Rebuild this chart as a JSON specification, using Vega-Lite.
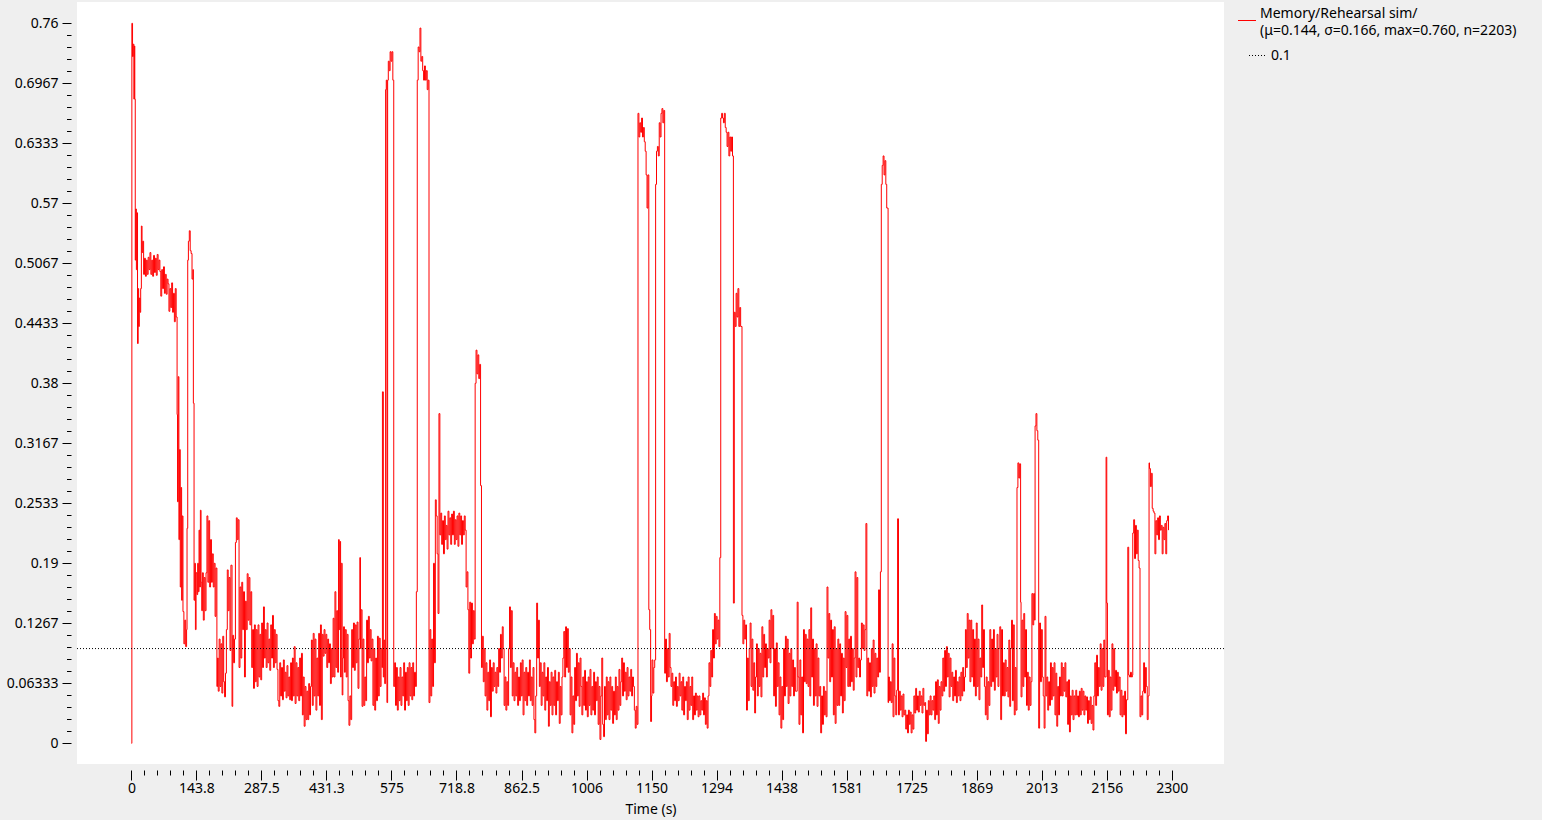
{
"$schema": "https://vega.github.io/schema/vega-lite/v6.json",
"width": 1147, "height": 762,
"autosize": "none",
"padding": {"left": 77, "top": 2, "right": 318, "bottom": 56},
"background": "#efefef",
"config": {"font": "Noto Sans", "view": {"fill": "white", "stroke": null}},
"datasets": {"s": [
{"t":0,"v":0},{"t":1,"v":0.76},{"t":2.5,"v":0.725},{"t":4,"v":0.738},{"t":5.5,"v":0.68},{"t":6.5,"v":0.736},{"t":7.5,"v":0.68},{"t":8.5,"v":0.51},{"t":9.5,"v":0.564},{"t":11,"v":0.5},{"t":12.5,"v":0.56},{"t":13.5,"v":0.422},{"t":15,"v":0.48},{"t":16,"v":0.44},{"t":17.5,"v":0.47},{"t":19,"v":0.455},{"t":20.5,"v":0.48},{"t":22,"v":0.546},{"t":23.5,"v":0.518},{"t":25,"v":0.53},{"t":27,"v":0.495},{"t":29,"v":0.512},{"t":31,"v":0.493},{"t":33,"v":0.51},{"t":35,"v":0.495},{"t":37,"v":0.513},{"t":39,"v":0.5},{"t":41,"v":0.518},{"t":43,"v":0.495},{"t":45,"v":0.51},{"t":47,"v":0.493},{"t":49,"v":0.515},{"t":51,"v":0.497},{"t":53,"v":0.512},{"t":55,"v":0.494},{"t":57,"v":0.516},{"t":59,"v":0.5},{"t":61,"v":0.51},{"t":63,"v":0.498},{"t":65,"v":0.472},{"t":67,"v":0.5},{"t":69,"v":0.48},{"t":71,"v":0.503},{"t":73,"v":0.475},{"t":75,"v":0.495},{"t":77,"v":0.474},{"t":79,"v":0.49},{"t":81,"v":0.485},{"t":83,"v":0.456},{"t":85,"v":0.48},{"t":87,"v":0.46},{"t":89,"v":0.486},{"t":91,"v":0.455},{"t":93,"v":0.475},{"t":95,"v":0.445},{"t":97,"v":0.48},{"t":99,"v":0.45},
{"t":101,"v":0.347},{"t":102,"v":0.255},{"t":103.5,"v":0.387},{"t":105,"v":0.215},{"t":106.5,"v":0.31},{"t":108,"v":0.165},{"t":109.5,"v":0.27},{"t":111,"v":0.151},{"t":112.5,"v":0.24},{"t":114,"v":0.139},{"t":116,"v":0.105},{"t":118,"v":0.13},{"t":120,"v":0.102},{"t":122,"v":0.12},{"t":123,"v":0.227},{"t":124.5,"v":0.51},{"t":126,"v":0.53},{"t":128,"v":0.541},{"t":130,"v":0.52},{"t":132,"v":0.517},{"t":134,"v":0.49},{"t":136,"v":0.5},{"t":137,"v":0.359},{"t":138.5,"v":0.151},{"t":140,"v":0.19},{"t":141.5,"v":0.12},{"t":143,"v":0.18},{"t":145,"v":0.157},{"t":146.5,"v":0.19},{"t":148,"v":0.16},{"t":149.5,"v":0.225},{"t":151,"v":0.165},{"t":152.5,"v":0.246},{"t":154,"v":0.17},{"t":155.5,"v":0.14},{"t":157,"v":0.18},{"t":159,"v":0.13},{"t":161,"v":0.175},{"t":163,"v":0.14},{"t":165,"v":0.18},{"t":167,"v":0.24},{"t":169,"v":0.17},{"t":171,"v":0.235},{"t":173,"v":0.165},{"t":175,"v":0.215},{"t":177,"v":0.17},{"t":179,"v":0.2},{"t":181,"v":0.165},{"t":183,"v":0.19},{"t":185,"v":0.134},{"t":187,"v":0.185},{"t":189,"v":0.06},{"t":190.5,"v":0.09},{"t":192,"v":0.055},{"t":194,"v":0.11},{"t":196,"v":0.06},{"t":198,"v":0.105},{"t":200,"v":0.053},{"t":202,"v":0.113},{"t":204,"v":0.065},{"t":206,"v":0.049},{"t":208,"v":0.074},{"t":210,"v":0.12},{"t":212,"v":0.183},{"t":214,"v":0.14},{"t":216,"v":0.175},{"t":218,"v":0.098},{"t":220,"v":0.188},{"t":222.5,"v":0.039},{"t":224,"v":0.114},{"t":226,"v":0.085},{"t":228,"v":0.11},{"t":230,"v":0.212},{"t":232,"v":0.238},{"t":234,"v":0.215},{"t":236,"v":0.236},{"t":238,"v":0.08},{"t":240,"v":0.165},{"t":242,"v":0.09},{"t":244,"v":0.17},{"t":246,"v":0.12},{"t":248,"v":0.16},{"t":250,"v":0.07},{"t":252,"v":0.15},{"t":254,"v":0.12},{"t":256,"v":0.179},{"t":258,"v":0.13},{"t":260,"v":0.175},{"t":262,"v":0.125},{"t":264,"v":0.16},{"t":266,"v":0.08},{"t":268,"v":0.12},{"t":270,"v":0.058},{"t":272,"v":0.125},{"t":274,"v":0.065},{"t":276,"v":0.12},{"t":278,"v":0.06},
{"t":280,"v":0.125},{"t":282,"v":0.07},{"t":284,"v":0.115},{"t":286,"v":0.067},{"t":288,"v":0.127},{"t":290,"v":0.08},{"t":292,"v":0.144},{"t":294,"v":0.09},{"t":296,"v":0.12},{"t":298,"v":0.08},{"t":300,"v":0.127},{"t":302,"v":0.085},{"t":304,"v":0.11},{"t":306,"v":0.077},{"t":308,"v":0.125},{"t":310,"v":0.09},{"t":312,"v":0.135},{"t":314,"v":0.08},{"t":316,"v":0.12},{"t":318,"v":0.085},{"t":320,"v":0.115},{"t":322,"v":0.078},{"t":324,"v":0.045},{"t":326,"v":0.039},{"t":328,"v":0.085},{"t":330,"v":0.05},{"t":332,"v":0.08},{"t":334,"v":0.046},{"t":336,"v":0.088},{"t":338,"v":0.055},{"t":340,"v":0.075},{"t":342,"v":0.048},{"t":344,"v":0.082},{"t":346,"v":0.05},{"t":348,"v":0.07},{"t":350,"v":0.046},{"t":352,"v":0.085},{"t":354,"v":0.045},{"t":356,"v":0.09},{"t":358,"v":0.05},{"t":360,"v":0.102},{"t":362,"v":0.042},{"t":364,"v":0.085},{"t":366,"v":0.05},{"t":368,"v":0.08},{"t":370,"v":0.045},{"t":372,"v":0.09},{"t":374,"v":0.05},{"t":376,"v":0.095},{"t":378,"v":0.03},{"t":380,"v":0.07},{"t":382,"v":0.018},{"t":384,"v":0.06},{"t":386,"v":0.025},{"t":388,"v":0.055},{"t":390,"v":0.025},{"t":392,"v":0.063},{"t":394,"v":0.03},{"t":396,"v":0.06},{"t":398,"v":0.109},{"t":400,"v":0.04},{"t":402,"v":0.116},{"t":404,"v":0.05},{"t":406,"v":0.11},{"t":408,"v":0.035},{"t":410,"v":0.09},{"t":412,"v":0.05},{"t":414,"v":0.116},{"t":416,"v":0.04},{"t":418,"v":0.125},{"t":420,"v":0.025},{"t":422,"v":0.115},{"t":424,"v":0.092},{"t":426,"v":0.12},{"t":428,"v":0.095},{"t":430,"v":0.115},{"t":432,"v":0.08},{"t":434,"v":0.11},{"t":436,"v":0.085},{"t":438,"v":0.105},{"t":440,"v":0.063},{"t":442,"v":0.1},{"t":444,"v":0.07},{"t":446,"v":0.132},{"t":448,"v":0.07},{"t":450,"v":0.16},{"t":452,"v":0.08},{"t":454,"v":0.14},{"t":456,"v":0.075},{"t":458,"v":0.215},{"t":459.5,"v":0.12},{"t":461,"v":0.213},{"t":462.5,"v":0.07},{"t":464,"v":0.19},{"t":466,"v":0.051},{"t":467.5,"v":0.09},{"t":469,"v":0.123},{"t":471,"v":0.075},{"t":473,"v":0.12},{"t":475,"v":0.07},{"t":477,"v":0.115},{"t":479,"v":0.045},{"t":481,"v":0.019},{"t":483,"v":0.05},{"t":485,"v":0.025},{"t":487,"v":0.12},{"t":489,"v":0.08},{"t":491,"v":0.127},{"t":493,"v":0.077},{"t":495,"v":0.125},{"t":497,"v":0.085},{"t":499,"v":0.128},{"t":501,"v":0.058},{"t":503,"v":0.11},{"t":505,"v":0.196},{"t":506.5,"v":0.1},{"t":508,"v":0.141},{"t":510,"v":0.039},{"t":512,"v":0.11},{"t":514,"v":0.04},{"t":516,"v":0.07},{"t":518,"v":0.045},{"t":520,"v":0.13},{"t":522,"v":0.085},{"t":524,"v":0.134},{"t":526,"v":0.09},{"t":528,"v":0.12},{"t":530,"v":0.087},{"t":532,"v":0.11},{"t":534,"v":0.04},{"t":536,"v":0.1},{"t":538,"v":0.035},{"t":540,"v":0.09},{"t":542,"v":0.045},{"t":544,"v":0.113},{"t":546,"v":0.05},{"t":548,"v":0.111},{"t":550,"v":0.06},{"t":552,"v":0.1},{"t":554,"v":0.08},{"t":555,"v":0.371},{"t":557,"v":0.07},{"t":558.5,"v":0.109},{"t":560,"v":0.063},{"t":562,"v":0.69},{"t":563.5,"v":0.7},{"t":565,"v":0.043},{"t":566.5,"v":0.7},{"t":568,"v":0.72},{"t":570,"v":0.71},{"t":572,"v":0.73},{"t":574,"v":0.72},{"t":576,"v":0.73},{"t":578,"v":0.7},
{"t":580,"v":0.06},{"t":582,"v":0.085},{"t":584,"v":0.04},{"t":586,"v":0.08},{"t":588,"v":0.035},{"t":590,"v":0.07},{"t":592,"v":0.045},{"t":594,"v":0.08},{"t":596,"v":0.04},{"t":598,"v":0.07},{"t":600,"v":0.05},{"t":602,"v":0.085},{"t":604,"v":0.035},{"t":606,"v":0.075},{"t":608,"v":0.045},{"t":610,"v":0.08},{"t":612,"v":0.04},{"t":614,"v":0.085},{"t":616,"v":0.05},{"t":618,"v":0.08},{"t":620,"v":0.046},{"t":622,"v":0.085},{"t":624,"v":0.05},{"t":626,"v":0.075},{"t":628,"v":0.06},{"t":630,"v":0.16},{"t":632,"v":0.7},{"t":634,"v":0.735},{"t":636,"v":0.73},{"t":638,"v":0.755},{"t":640,"v":0.72},{"t":642,"v":0.725},{"t":644,"v":0.71},{"t":646,"v":0.7},{"t":648,"v":0.715},{"t":650,"v":0.7},{"t":652,"v":0.71},{"t":654,"v":0.69},{"t":656,"v":0.7},{"t":658,"v":0.043},{"t":660,"v":0.12},{"t":662,"v":0.05},{"t":664,"v":0.11},{"t":666,"v":0.06},{"t":668,"v":0.19},{"t":670,"v":0.085},{"t":672,"v":0.257},{"t":674,"v":0.24},{"t":676,"v":0.2},{"t":678,"v":0.137},{"t":680,"v":0.348},{"t":682,"v":0.22},{"t":684,"v":0.243},{"t":686,"v":0.21},{"t":688,"v":0.235},{"t":690,"v":0.2},{"t":692,"v":0.24},{"t":694,"v":0.215},{"t":696,"v":0.23},{"t":698,"v":0.205},{"t":700,"v":0.245},{"t":702,"v":0.22},{"t":704,"v":0.238},{"t":706,"v":0.21},{"t":708,"v":0.242},{"t":710,"v":0.22},{"t":712,"v":0.245},{"t":714,"v":0.21},{"t":716,"v":0.236},{"t":718,"v":0.215},{"t":720,"v":0.24},{"t":722,"v":0.208},{"t":724,"v":0.243},{"t":726,"v":0.22},{"t":728,"v":0.24},{"t":730,"v":0.21},{"t":732,"v":0.235},{"t":734,"v":0.22},{"t":736,"v":0.24},{"t":738,"v":0.225},{"t":740,"v":0.165},{"t":742,"v":0.181},{"t":744,"v":0.141},{"t":746,"v":0.074},{"t":748,"v":0.149},{"t":750,"v":0.09},{"t":752,"v":0.148},{"t":754,"v":0.105},{"t":756,"v":0.14},{"t":758,"v":0.11},{"t":760,"v":0.38},{"t":762,"v":0.415},{"t":764,"v":0.39},{"t":766,"v":0.41},{"t":768,"v":0.385},{"t":770,"v":0.4},{"t":772,"v":0.272},{"t":774,"v":0.08},{"t":776,"v":0.113},{"t":778,"v":0.065},{"t":780,"v":0.1},
{"t":782,"v":0.05},{"t":784,"v":0.085},{"t":786,"v":0.035},{"t":788,"v":0.075},{"t":790,"v":0.045},{"t":792,"v":0.088},{"t":794,"v":0.028},{"t":796,"v":0.08},{"t":798,"v":0.055},{"t":800,"v":0.085},{"t":802,"v":0.06},{"t":804,"v":0.075},{"t":806,"v":0.053},{"t":808,"v":0.08},{"t":810,"v":0.06},{"t":812,"v":0.1},{"t":814,"v":0.075},{"t":816,"v":0.115},{"t":818,"v":0.09},{"t":820,"v":0.123},{"t":822,"v":0.1},{"t":824,"v":0.04},{"t":826,"v":0.07},{"t":828,"v":0.035},{"t":830,"v":0.065},{"t":832,"v":0.04},{"t":834,"v":0.1},{"t":836,"v":0.144},{"t":838,"v":0.08},{"t":840,"v":0.14},{"t":842,"v":0.05},{"t":844,"v":0.085},{"t":846,"v":0.045},{"t":848,"v":0.075},{"t":850,"v":0.05},{"t":852,"v":0.08},{"t":854,"v":0.04},{"t":856,"v":0.07},{"t":858,"v":0.045},{"t":860,"v":0.085},{"t":862,"v":0.05},{"t":864,"v":0.088},{"t":866,"v":0.03},{"t":868,"v":0.075},{"t":870,"v":0.045},{"t":872,"v":0.08},{"t":874,"v":0.04},{"t":876,"v":0.075},{"t":878,"v":0.05},{"t":880,"v":0.088},{"t":882,"v":0.045},{"t":884,"v":0.07},{"t":886,"v":0.04},{"t":888,"v":0.08},{"t":890,"v":0.025},{"t":892,"v":0.011},{"t":894,"v":0.05},{"t":896,"v":0.148},{"t":898,"v":0.09},{"t":900,"v":0.13},{"t":902,"v":0.06},{"t":904,"v":0.085},{"t":906,"v":0.04},{"t":908,"v":0.075},{"t":910,"v":0.05},{"t":912,"v":0.085},{"t":914,"v":0.035},{"t":916,"v":0.07},{"t":918,"v":0.045},{"t":920,"v":0.08},{"t":922,"v":0.018},{"t":924,"v":0.065},{"t":926,"v":0.04},{"t":928,"v":0.075},{"t":930,"v":0.03},{"t":932,"v":0.07},{"t":934,"v":0.04},{"t":936,"v":0.077},{"t":938,"v":0.03},{"t":940,"v":0.065},{"t":942,"v":0.045},{"t":944,"v":0.075},{"t":946,"v":0.021},{"t":948,"v":0.06},{"t":950,"v":0.03},{"t":952,"v":0.07},{"t":954,"v":0.09},{"t":956,"v":0.118},{"t":958,"v":0.07},{"t":960,"v":0.123},{"t":962,"v":0.08},{"t":964,"v":0.121},{"t":966,"v":0.075},{"t":968,"v":0.1},{"t":970,"v":0.03},{"t":972,"v":0.07},{"t":974,"v":0.011},{"t":976,"v":0.05},{"t":978,"v":0.02},{"t":980,"v":0.08},{"t":982,"v":0.045},{"t":984,"v":0.095},{"t":986,"v":0.05},{"t":988,"v":0.085},{"t":990,"v":0.039},{"t":992,"v":0.09},{"t":994,"v":0.06},{"t":996,"v":0.03},{"t":998,"v":0.07},{"t":1000,"v":0.04},{"t":1002,"v":0.077},{"t":1004,"v":0.035},{"t":1006,"v":0.065},{"t":1008,"v":0.028},{"t":1010,"v":0.07},{"t":1012,"v":0.04},{"t":1014,"v":0.078},{"t":1016,"v":0.03},{"t":1018,"v":0.06},{"t":1020,"v":0.035},{"t":1022,"v":0.075},{"t":1024,"v":0.03},{"t":1026,"v":0.065},{"t":1028,"v":0.045},{"t":1030,"v":0.07},{"t":1032,"v":0.02},{"t":1034,"v":0.06},{"t":1036,"v":0.004},{"t":1038,"v":0.05},{"t":1040,"v":0.09},{"t":1042,"v":0.02},{"t":1044,"v":0.007},{"t":1046,"v":0.06},{"t":1048,"v":0.025},{"t":1050,"v":0.07},{"t":1052,"v":0.03},{"t":1054,"v":0.065},{"t":1056,"v":0.025},{"t":1058,"v":0.07},{"t":1060,"v":0.035},{"t":1062,"v":0.06},{"t":1064,"v":0.021},{"t":1066,"v":0.055},{"t":1068,"v":0.03},{"t":1070,"v":0.07},{"t":1072,"v":0.025},{"t":1074,"v":0.06},{"t":1076,"v":0.035},{"t":1078,"v":0.078},{"t":1080,"v":0.04},{"t":1082,"v":0.065},{"t":1084,"v":0.09},{"t":1086,"v":0.05},{"t":1088,"v":0.085},{"t":1090,"v":0.055},{"t":1092,"v":0.075},{"t":1094,"v":0.046},{"t":1096,"v":0.08},{"t":1098,"v":0.05},{"t":1100,"v":0.07},{"t":1102,"v":0.055},{"t":1104,"v":0.078},{"t":1106,"v":0.05},{"t":1108,"v":0.07},{"t":1110,"v":0.06},{"t":1112,"v":0.035},{"t":1114,"v":0.016},{"t":1116,"v":0.039},{"t":1118,"v":0.02},
{"t":1120,"v":0.665},{"t":1122,"v":0.64},{"t":1124,"v":0.655},{"t":1126,"v":0.645},{"t":1128,"v":0.66},{"t":1130,"v":0.64},{"t":1132,"v":0.65},{"t":1134,"v":0.635},{"t":1136,"v":0.625},{"t":1138,"v":0.6},{"t":1140,"v":0.565},{"t":1142,"v":0.6},{"t":1144,"v":0.141},{"t":1146,"v":0.12},{"t":1148,"v":0.023},{"t":1150,"v":0.05},{"t":1151,"v":0.088},{"t":1153,"v":0.053},{"t":1155,"v":0.08},{"t":1157,"v":0.088},{"t":1159,"v":0.59},{"t":1161,"v":0.625},{"t":1163,"v":0.63},{"t":1165,"v":0.62},{"t":1167,"v":0.655},{"t":1169,"v":0.64},{"t":1171,"v":0.665},{"t":1173,"v":0.67},{"t":1175,"v":0.655},{"t":1177,"v":0.668},{"t":1179,"v":0.074},{"t":1181,"v":0.11},{"t":1183,"v":0.065},{"t":1185,"v":0.1},{"t":1187,"v":0.07},{"t":1189,"v":0.116},{"t":1191,"v":0.08},{"t":1193,"v":0.06},{"t":1195,"v":0.074},{"t":1197,"v":0.04},{"t":1199,"v":0.065},{"t":1201,"v":0.045},{"t":1203,"v":0.07},{"t":1205,"v":0.039},{"t":1207,"v":0.06},{"t":1209,"v":0.045},{"t":1211,"v":0.074},{"t":1213,"v":0.05},{"t":1215,"v":0.065},{"t":1217,"v":0.035},{"t":1219,"v":0.07},{"t":1221,"v":0.03},{"t":1223,"v":0.06},{"t":1225,"v":0.045},{"t":1227,"v":0.065},{"t":1229,"v":0.025},{"t":1231,"v":0.07},{"t":1233,"v":0.035},{"t":1235,"v":0.06},{"t":1237,"v":0.04},{"t":1239,"v":0.07},{"t":1241,"v":0.025},{"t":1243,"v":0.05},{"t":1245,"v":0.03},{"t":1247,"v":0.053},{"t":1249,"v":0.035},{"t":1251,"v":0.05},{"t":1253,"v":0.028},{"t":1255,"v":0.05},{"t":1257,"v":0.03},{"t":1259,"v":0.045},{"t":1261,"v":0.035},{"t":1263,"v":0.053},{"t":1265,"v":0.03},{"t":1267,"v":0.048},{"t":1269,"v":0.02},{"t":1271,"v":0.045},{"t":1273,"v":0.016},{"t":1275,"v":0.05},{"t":1277,"v":0.085},{"t":1279,"v":0.06},{"t":1281,"v":0.098},{"t":1283,"v":0.07},{"t":1285,"v":0.12},{"t":1287,"v":0.09},{"t":1289,"v":0.137},{"t":1291,"v":0.105},{"t":1293,"v":0.134},{"t":1295,"v":0.11},{"t":1297,"v":0.13},{"t":1299,"v":0.102},{"t":1301,"v":0.196},{"t":1303,"v":0.66},{"t":1305,"v":0.665},{"t":1307,"v":0.66},{"t":1309,"v":0.655},{"t":1311,"v":0.665},{"t":1313,"v":0.65},{"t":1315,"v":0.645},{"t":1317,"v":0.63},{"t":1319,"v":0.645},{"t":1321,"v":0.62},{"t":1323,"v":0.64},{"t":1325,"v":0.625},{"t":1327,"v":0.64},{"t":1329,"v":0.62},{"t":1331,"v":0.148},{"t":1333,"v":0.455},{"t":1335,"v":0.44},{"t":1337,"v":0.475},{"t":1339,"v":0.45},{"t":1341,"v":0.48},{"t":1343,"v":0.44},{"t":1345,"v":0.46},{"t":1347,"v":0.44},
{"t":1350,"v":0.135},{"t":1352,"v":0.105},{"t":1354,"v":0.13},{"t":1356,"v":0.11},{"t":1358,"v":0.125},{"t":1360,"v":0.035},{"t":1362,"v":0.09},{"t":1364,"v":0.045},{"t":1366,"v":0.1},{"t":1368,"v":0.127},{"t":1370,"v":0.06},{"t":1372,"v":0.11},{"t":1374,"v":0.056},{"t":1376,"v":0.085},{"t":1378,"v":0.032},{"t":1380,"v":0.07},{"t":1382,"v":0.105},{"t":1384,"v":0.05},{"t":1386,"v":0.1},{"t":1388,"v":0.06},{"t":1390,"v":0.095},{"t":1392,"v":0.049},{"t":1394,"v":0.123},{"t":1396,"v":0.07},{"t":1398,"v":0.115},{"t":1400,"v":0.08},{"t":1402,"v":0.105},{"t":1404,"v":0.07},{"t":1406,"v":0.1},{"t":1408,"v":0.09},{"t":1410,"v":0.13},{"t":1412,"v":0.085},{"t":1414,"v":0.141},{"t":1416,"v":0.1},{"t":1418,"v":0.135},{"t":1420,"v":0.05},{"t":1422,"v":0.1},{"t":1424,"v":0.039},{"t":1426,"v":0.106},{"t":1428,"v":0.06},{"t":1430,"v":0.085},{"t":1432,"v":0.03},{"t":1434,"v":0.07},{"t":1436,"v":0.016},{"t":1438,"v":0.06},{"t":1440,"v":0.025},{"t":1442,"v":0.1},{"t":1444,"v":0.05},{"t":1446,"v":0.113},{"t":1448,"v":0.06},{"t":1450,"v":0.11},{"t":1452,"v":0.042},{"t":1454,"v":0.095},{"t":1456,"v":0.05},{"t":1458,"v":0.1},{"t":1460,"v":0.06},{"t":1462,"v":0.088},{"t":1464,"v":0.05},{"t":1466,"v":0.08},{"t":1468,"v":0.055},{"t":1472,"v":0.149},{"t":1474,"v":0.07},{"t":1476,"v":0.02},{"t":1478,"v":0.088},{"t":1480,"v":0.03},{"t":1482,"v":0.07},{"t":1484,"v":0.011},{"t":1486,"v":0.12},{"t":1488,"v":0.065},{"t":1490,"v":0.115},{"t":1492,"v":0.063},{"t":1494,"v":0.11},{"t":1496,"v":0.06},{"t":1498,"v":0.12},{"t":1500,"v":0.05},{"t":1502,"v":0.143},{"t":1504,"v":0.07},{"t":1506,"v":0.11},{"t":1508,"v":0.04},{"t":1510,"v":0.1},{"t":1512,"v":0.05},{"t":1514,"v":0.105},{"t":1516,"v":0.039},{"t":1518,"v":0.09},{"t":1520,"v":0.05},{"t":1522,"v":0.06},{"t":1524,"v":0.011},{"t":1526,"v":0.05},{"t":1528,"v":0.02},{"t":1530,"v":0.06},{"t":1532,"v":0.03},{"t":1534,"v":0.055},{"t":1536,"v":0.028},{"t":1538,"v":0.165},{"t":1540,"v":0.09},{"t":1542,"v":0.137},{"t":1544,"v":0.065},{"t":1546,"v":0.13},{"t":1548,"v":0.07},{"t":1550,"v":0.12},{"t":1552,"v":0.03},{"t":1554,"v":0.123},{"t":1556,"v":0.021},{"t":1558,"v":0.1},{"t":1560,"v":0.04},{"t":1562,"v":0.11},{"t":1564,"v":0.04},{"t":1566,"v":0.105},{"t":1568,"v":0.05},{"t":1570,"v":0.095},{"t":1572,"v":0.032},{"t":1574,"v":0.09},{"t":1576,"v":0.045},{"t":1578,"v":0.139},{"t":1580,"v":0.08},{"t":1582,"v":0.135},{"t":1584,"v":0.06},{"t":1586,"v":0.11},{"t":1588,"v":0.06},{"t":1590,"v":0.113},{"t":1592,"v":0.065},{"t":1594,"v":0.1},{"t":1596,"v":0.056},{"t":1598,"v":0.09},{"t":1600,"v":0.181},{"t":1602,"v":0.07},{"t":1604,"v":0.175},{"t":1606,"v":0.08},{"t":1608,"v":0.09},{"t":1610,"v":0.07},{"t":1612,"v":0.088},{"t":1614,"v":0.127},{"t":1616,"v":0.1},{"t":1618,"v":0.125},{"t":1620,"v":0.098},{"t":1622,"v":0.12},{"t":1624,"v":0.232},{"t":1626,"v":0.05},{"t":1628,"v":0.09},{"t":1630,"v":0.055},{"t":1632,"v":0.085},{"t":1634,"v":0.049},{"t":1636,"v":0.1},{"t":1638,"v":0.06},{"t":1640,"v":0.109},{"t":1642,"v":0.053},{"t":1644,"v":0.095},{"t":1646,"v":0.06},{"t":1648,"v":0.09},{"t":1650,"v":0.07},{"t":1652,"v":0.162},{"t":1654,"v":0.075},{"t":1656,"v":0.181},{"t":1658,"v":0.59},{"t":1660,"v":0.61},{"t":1662,"v":0.62},{"t":1664,"v":0.6},{"t":1666,"v":0.615},{"t":1668,"v":0.59},{"t":1670,"v":0.565},{"t":1673,"v":0.043},{"t":1674,"v":0.07},{"t":1676,"v":0.045},{"t":1678,"v":0.065},{"t":1680,"v":0.043},{"t":1682,"v":0.105},{"t":1684,"v":0.028},{"t":1686,"v":0.09},{"t":1688,"v":0.05},{"t":1690,"v":0.03},{"t":1692,"v":0.056},{"t":1694,"v":0.237},{"t":1696,"v":0.03},{"t":1698,"v":0.055},{"t":1700,"v":0.035},{"t":1702,"v":0.05},{"t":1704,"v":0.028},{"t":1706,"v":0.052},{"t":1708,"v":0.03},{"t":1710,"v":0.035},{"t":1712,"v":0.015},{"t":1714,"v":0.03},{"t":1716,"v":0.011},{"t":1718,"v":0.035},{"t":1720,"v":0.02},{"t":1722,"v":0.033},{"t":1724,"v":0.011},{"t":1726,"v":0.03},{"t":1728,"v":0.015},{"t":1730,"v":0.05},{"t":1732,"v":0.032},{"t":1734,"v":0.058},{"t":1736,"v":0.035},{"t":1738,"v":0.05},{"t":1740,"v":0.033},{"t":1742,"v":0.055},{"t":1744,"v":0.04},{"t":1746,"v":0.05},{"t":1748,"v":0.032},{"t":1750,"v":0.058},{"t":1752,"v":0.04},{"t":1754,"v":0.043},{"t":1756,"v":0.002},{"t":1758,"v":0.035},{"t":1760,"v":0.01},{"t":1762,"v":0.045},{"t":1764,"v":0.03},{"t":1766,"v":0.05},{"t":1768,"v":0.03},{"t":1770,"v":0.045},{"t":1772,"v":0.035},{"t":1774,"v":0.05},{"t":1776,"v":0.025},{"t":1778,"v":0.065},{"t":1780,"v":0.03},{"t":1782,"v":0.067},{"t":1784,"v":0.021},{"t":1786,"v":0.06},{"t":1788,"v":0.035},{"t":1790,"v":0.065},{"t":1792,"v":0.05},{"t":1794,"v":0.09},{"t":1796,"v":0.055},{"t":1798,"v":0.098},{"t":1800,"v":0.06},{"t":1802,"v":0.102},{"t":1804,"v":0.07},{"t":1806,"v":0.095},{"t":1808,"v":0.049},{"t":1810,"v":0.09},{"t":1812,"v":0.06},{"t":1814,"v":0.075},{"t":1816,"v":0.045},{"t":1818,"v":0.07},{"t":1820,"v":0.05},{"t":1822,"v":0.077},{"t":1824,"v":0.043},{"t":1826,"v":0.065},{"t":1828,"v":0.05},{"t":1830,"v":0.07},{"t":1832,"v":0.045},{"t":1834,"v":0.075},{"t":1836,"v":0.05},{"t":1838,"v":0.08},{"t":1840,"v":0.055},{"t":1842,"v":0.07},{"t":1844,"v":0.12},{"t":1846,"v":0.08},{"t":1848,"v":0.137},{"t":1850,"v":0.09},{"t":1852,"v":0.13},{"t":1854,"v":0.065},{"t":1856,"v":0.13},{"t":1858,"v":0.07},{"t":1860,"v":0.12},{"t":1862,"v":0.06},{"t":1864,"v":0.11},{"t":1866,"v":0.05},{"t":1868,"v":0.127},{"t":1870,"v":0.06},{"t":1872,"v":0.11},{"t":1874,"v":0.046},{"t":1876,"v":0.09},{"t":1878,"v":0.07},{"t":1880,"v":0.146},{"t":1882,"v":0.08},{"t":1884,"v":0.12},{"t":1886,"v":0.06},{"t":1888,"v":0.03},{"t":1890,"v":0.07},{"t":1892,"v":0.025},{"t":1894,"v":0.065},{"t":1896,"v":0.04},{"t":1898,"v":0.12},{"t":1900,"v":0.06},{"t":1902,"v":0.11},{"t":1904,"v":0.065},{"t":1906,"v":0.12},{"t":1908,"v":0.056},{"t":1910,"v":0.1},{"t":1912,"v":0.07},{"t":1914,"v":0.115},{"t":1916,"v":0.06},{"t":1918,"v":0.1},{"t":1920,"v":0.123},{"t":1922,"v":0.025},{"t":1924,"v":0.12},{"t":1926,"v":0.05},{"t":1928,"v":0.085},{"t":1930,"v":0.05},{"t":1932,"v":0.088},{"t":1934,"v":0.055},{"t":1936,"v":0.08},{"t":1938,"v":0.049},{"t":1940,"v":0.109},{"t":1942,"v":0.039},{"t":1944,"v":0.1},{"t":1946,"v":0.13},{"t":1948,"v":0.045},{"t":1950,"v":0.125},{"t":1952,"v":0.03},{"t":1954,"v":0.08},{"t":1956,"v":0.035},{"t":1958,"v":0.27},{"t":1960,"v":0.296},{"t":1962,"v":0.28},{"t":1964,"v":0.295},{"t":1966,"v":0.149},{"t":1967,"v":0.049},{"t":1969,"v":0.13},{"t":1971,"v":0.06},{"t":1973,"v":0.137},{"t":1975,"v":0.07},{"t":1977,"v":0.12},{"t":1979,"v":0.04},{"t":1981,"v":0.075},{"t":1983,"v":0.035},{"t":1985,"v":0.07},{"t":1987,"v":0.04},{"t":1989,"v":0.065},{"t":1991,"v":0.158},{"t":1993,"v":0.125},{"t":1995,"v":0.158},{"t":1997,"v":0.13},{"t":1998,"v":0.335},{"t":2000,"v":0.348},{"t":2002,"v":0.33},{"t":2004,"v":0.32},{"t":2006,"v":0.016},{"t":2008,"v":0.127},{"t":2010,"v":0.065},{"t":2012,"v":0.12},{"t":2014,"v":0.07},{"t":2016,"v":0.05},{"t":2018,"v":0.016},{"t":2020,"v":0.134},{"t":2022,"v":0.05},{"t":2024,"v":0.07},{"t":2026,"v":0.035},{"t":2028,"v":0.065},{"t":2030,"v":0.04},{"t":2032,"v":0.085},{"t":2034,"v":0.046},{"t":2036,"v":0.08},{"t":2038,"v":0.05},{"t":2040,"v":0.085},{"t":2042,"v":0.03},{"t":2044,"v":0.074},{"t":2046,"v":0.018},{"t":2048,"v":0.06},{"t":2050,"v":0.03},{"t":2052,"v":0.07},{"t":2054,"v":0.05},{"t":2056,"v":0.085},{"t":2058,"v":0.05},{"t":2060,"v":0.08},{"t":2062,"v":0.055},{"t":2064,"v":0.085},{"t":2066,"v":0.049},{"t":2068,"v":0.065},{"t":2070,"v":0.02},{"t":2072,"v":0.067},{"t":2074,"v":0.012},{"t":2076,"v":0.05},{"t":2078,"v":0.03},{"t":2080,"v":0.056},{"t":2082,"v":0.025},{"t":2084,"v":0.05},{"t":2086,"v":0.03},{"t":2088,"v":0.056},{"t":2090,"v":0.03},{"t":2092,"v":0.05},{"t":2094,"v":0.028},{"t":2096,"v":0.055},{"t":2098,"v":0.03},{"t":2100,"v":0.058},{"t":2102,"v":0.035},{"t":2104,"v":0.055},{"t":2106,"v":0.03},{"t":2108,"v":0.05},{"t":2110,"v":0.035},{"t":2112,"v":0.049},{"t":2114,"v":0.021},{"t":2116,"v":0.045},{"t":2118,"v":0.025},{"t":2120,"v":0.049},{"t":2122,"v":0.021},{"t":2124,"v":0.04},{"t":2126,"v":0.014},{"t":2128,"v":0.05},{"t":2130,"v":0.085},{"t":2132,"v":0.04},{"t":2134,"v":0.093},{"t":2136,"v":0.05},{"t":2138,"v":0.08},{"t":2140,"v":0.06},{"t":2142,"v":0.105},{"t":2144,"v":0.056},{"t":2146,"v":0.1},{"t":2148,"v":0.06},{"t":2150,"v":0.109},{"t":2152,"v":0.07},{"t":2155,"v":0.302},{"t":2156.5,"v":0.148},{"t":2158,"v":0.03},{"t":2160,"v":0.077},{"t":2162,"v":0.028},{"t":2164,"v":0.07},{"t":2166,"v":0.035},{"t":2168,"v":0.105},{"t":2170,"v":0.056},{"t":2172,"v":0.1},{"t":2174,"v":0.06},{"t":2176,"v":0.077},{"t":2178,"v":0.053},{"t":2180,"v":0.075},{"t":2182,"v":0.055},{"t":2184,"v":0.07},{"t":2186,"v":0.03},{"t":2188,"v":0.056},{"t":2190,"v":0.028},{"t":2192,"v":0.05},{"t":2194,"v":0.03},{"t":2196,"v":0.055},{"t":2198,"v":0.01},{"t":2200,"v":0.046},{"t":2203,"v":0.207},{"t":2205,"v":0.072},{"t":2207,"v":0.07},{"t":2209,"v":0.075},{"t":2211,"v":0.07},{"t":2213,"v":0.072},{"t":2214,"v":0.222},{"t":2216,"v":0.236},{"t":2218,"v":0.195},{"t":2220,"v":0.23},{"t":2222,"v":0.2},{"t":2224,"v":0.225},{"t":2226,"v":0.193},{"t":2228,"v":0.185},{"t":2230,"v":0.028},{"t":2232,"v":0.05},{"t":2234,"v":0.03},{"t":2236,"v":0.055},{"t":2238,"v":0.085},{"t":2240,"v":0.053},{"t":2242,"v":0.08},{"t":2244,"v":0.06},{"t":2246,"v":0.025},{"t":2248,"v":0.05},{"t":2250,"v":0.296},{"t":2251,"v":0.29},{"t":2253,"v":0.271},{"t":2255,"v":0.285},{"t":2257,"v":0.248},{"t":2259,"v":0.245},{"t":2261,"v":0.243},{"t":2263,"v":0.2},{"t":2265,"v":0.235},{"t":2267,"v":0.22},{"t":2269,"v":0.238},{"t":2271,"v":0.215},{"t":2273,"v":0.24},{"t":2275,"v":0.225},{"t":2277,"v":0.23},{"t":2279,"v":0.2},{"t":2281,"v":0.228},{"t":2283,"v":0.215},{"t":2285,"v":0.232},{"t":2287,"v":0.2},{"t":2289,"v":0.235},{"t":2291,"v":0.24},{"t":2293,"v":0.225}
]},
"layer": [
{"data": {"name": "s"},
 "mark": {"type": "line", "interpolate": "step-after", "strokeWidth": 1},
 "encoding": {
  "x": {"field": "t", "type": "quantitative",
   "scale": {"domain": [-120.3, 2415.7], "nice": false, "zero": false},
   "axis": {"values": [0,28.75,57.5,86.25,115,143.75,172.5,201.25,230,258.75,287.5,316.25,345,373.75,402.5,431.25,460,488.75,517.5,546.25,575,603.75,632.5,661.25,690,718.75,747.5,776.25,805,833.75,862.5,891.25,920,948.75,977.5,1006.25,1035,1063.75,1092.5,1121.25,1150,1178.75,1207.5,1236.25,1265,1293.75,1322.5,1351.25,1380,1408.75,1437.5,1466.25,1495,1523.75,1552.5,1581.25,1610,1638.75,1667.5,1696.25,1725,1753.75,1782.5,1811.25,1840,1868.75,1897.5,1926.25,1955,1983.75,2012.5,2041.25,2070,2098.75,2127.5,2156.25,2185,2213.75,2242.5,2271.25,2300],
    "tickCount": 1000,
    "labelExpr": "datum.value % 143.75 == 0 ? format(datum.value, '.4~r') : ''",
    "tickSize": {"condition": {"test": "datum.value % 143.75 == 0", "value": 10}, "value": 5},
    "offset": 6, "domain": false, "grid": false, "tickColor": "#000", "tickWidth": 1,
    "labelFont": "Noto Sans", "labelFontSize": 14, "labelColor": "#000", "labelPadding": 1,
    "labelOverlap": false, "labelBound": false, "labelFlush": false,
    "title": "Time (s)", "titleFont": "Noto Sans", "titleFontSize": 14, "titleFontWeight": "normal", "titleColor": "#000", "titlePadding": 7}},
  "y": {"field": "v", "type": "quantitative",
   "scale": {"domain": [-0.02185, 0.7825], "nice": false, "zero": false},
   "axis": {"values": [0,0.0126667,0.0253333,0.038,0.0506667,0.0633333,0.076,0.0886667,0.1013333,0.114,0.1266667,0.1393333,0.152,0.1646667,0.1773333,0.19,0.2026667,0.2153333,0.228,0.2406667,0.2533333,0.266,0.2786667,0.2913333,0.304,0.3166667,0.3293333,0.342,0.3546667,0.3673333,0.38,0.3926667,0.4053333,0.418,0.4306667,0.4433333,0.456,0.4686667,0.4813333,0.494,0.5066667,0.5193333,0.532,0.5446667,0.5573333,0.57,0.5826667,0.5953333,0.608,0.6206667,0.6333333,0.646,0.6586667,0.6713333,0.684,0.6966667,0.7093333,0.722,0.7346667,0.7473333,0.76],
    "tickCount": 1000,
    "labelExpr": "abs(datum.value/0.063333333 - round(datum.value/0.063333333)) < 0.001 ? format(datum.value, '.4~r') : ''",
    "tickSize": {"condition": {"test": "abs(datum.value/0.063333333 - round(datum.value/0.063333333)) < 0.001", "value": 9}, "value": 4.5},
    "offset": 6, "domain": false, "grid": false, "tickColor": "#000", "tickWidth": 1,
    "labelFont": "Noto Sans", "labelFontSize": 14, "labelColor": "#000", "labelPadding": 4,
    "labelOverlap": false, "labelBound": false, "labelFlush": false, "title": null}},
  "color": {"datum": "Memory/Rehearsal sim/", "type": "nominal",
   "scale": {"domain": ["Memory/Rehearsal sim/", "0.1"], "range": ["#ff0000", "#000000"]},
   "legend": {"orient": "none", "legendX": 1161, "legendY": 9, "title": null, "padding": 0,
    "symbolType": "stroke", "symbolSize": 324, "symbolStrokeWidth": 1, "labelOffset": 3,
    "labelFont": "Noto Sans", "labelFontSize": 14, "labelColor": "#000", "labelLimit": 400, "rowPadding": 8,
    "labelExpr": "datum.label == '0.1' ? '0.1' : ['Memory/Rehearsal sim/', '(μ=0.144, σ=0.166, max=0.760, n=2203)']",
    "encode": {"symbols": {"update": {"strokeDash": {"signal": "datum.label == '0.1' ? [1, 2] : [1, 0]"}, "x": {"signal": "datum.label == '0.1' ? 20 : 9"}}},
               "labels": {"update": {"lineHeight": {"value": 17}, "dy": {"signal": "datum.label == '0.1' ? 0 : -7"}, "dx": {"signal": "datum.label == '0.1' ? 11 : 0"}}}}}}
 }},
{"data": {"values": [{"v": 0.1}]},
 "mark": {"type": "rule", "strokeDash": [1, 2], "strokeWidth": 1},
 "encoding": {"y": {"field": "v", "type": "quantitative"}, "color": {"datum": "0.1", "type": "nominal"}}}
]
}
